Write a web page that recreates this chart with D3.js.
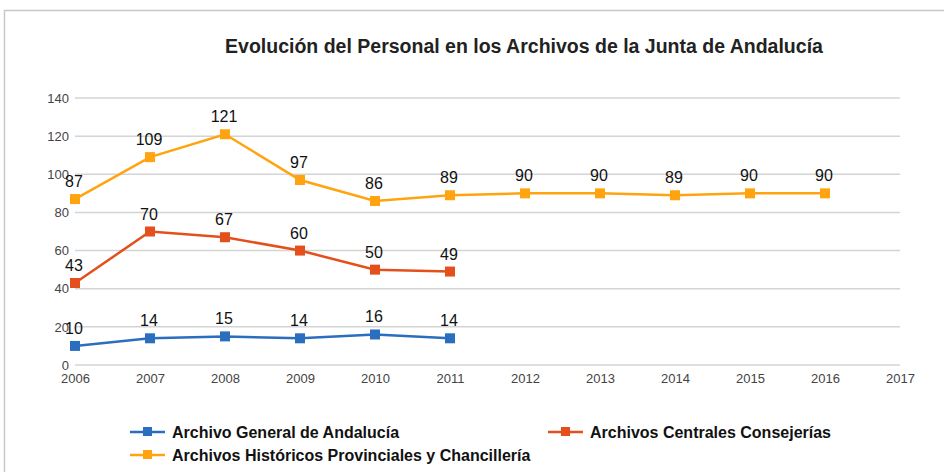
<!DOCTYPE html>
<html>
<head>
<meta charset="utf-8">
<script src="https://cdn.jsdelivr.net/npm/d3@7"></script>
<style>
  body { margin: 0; background: #fff; }
  svg { display: block; font-family: "Liberation Sans", Arial, sans-serif; }
</style>
</head>
<body>
<div id="chart"></div>
<script>
// Data
const years = [2006, 2007, 2008, 2009, 2010, 2011, 2012, 2013, 2014, 2015, 2016, 2017];
const yTicks = [0, 20, 40, 60, 80, 100, 120, 140];
const seriesNames = [
    'Archivo General de Andalucía',
    'Archivos Centrales Consejerías',
    'Archivos Históricos Provinciales y Chancillería'
];
const generalValues = [10, 14, 15, 14, 16, 14];
const centralesValues = [43, 70, 67, 60, 50, 49];
const historicosValues = [87, 109, 121, 97, 86, 89, 90, 90, 89, 90, 90];
const colors = ['#2a6ebf', '#e4501b', '#ffa410'];

const width = 944;
const height = 472;

const svg = d3
    .select('#chart')
    .append('svg')
    .attr('width', width)
    .attr('height', height);

// Outer frame
svg.append('rect')
    .attr('x', 4.5)
    .attr('y', 10.5)
    .attr('width', 960)
    .attr('height', 500)
    .attr('fill', 'none')
    .attr('stroke', '#c8c8c8')
    .attr('stroke-width', 1.5);

// Title
svg.append('text')
    .attr('x', 524)
    .attr('y', 53)
    .attr('text-anchor', 'middle')
    .attr('font-size', 19.5)
    .attr('font-weight', 'bold')
    .attr('fill', '#222')
    .text('Evolución del Personal en los Archivos de la Junta de Andalucía');

// Scales
const xScale = d3.scaleLinear().domain([2006, 2017]).range([75, 900]);
const yScale = d3.scaleLinear().domain([0, 140]).range([365, 98]);

// Grid lines
svg.append('g')
    .selectAll('line')
    .data(yTicks)
    .enter()
    .append('line')
    .attr('x1', xScale(2006))
    .attr('x2', xScale(2017))
    .attr('y1', (d) => yScale(d))
    .attr('y2', (d) => yScale(d))
    .attr('stroke', '#d4d4d4')
    .attr('stroke-width', 1.5);

// Axes (text only, lines drawn as grid)
const yAxis = svg.append('g')
    .attr('transform', `translate(${xScale(2006)}, 0)`)
    .call(d3.axisLeft(yScale).tickValues(yTicks).tickSize(0).tickPadding(6));
yAxis.select('.domain').remove();
yAxis.selectAll('text')
    .attr('font-family', '"Liberation Sans", Arial, sans-serif')
    .attr('font-size', 13)
    .attr('fill', '#444');

const xAxis = svg.append('g')
    .attr('transform', `translate(0, ${yScale(0)})`)
    .call(d3.axisBottom(xScale).tickValues(years).tickFormat(d3.format('d')).tickSize(0).tickPadding(9));
xAxis.select('.domain').remove();
xAxis.selectAll('text')
    .attr('font-family', '"Liberation Sans", Arial, sans-serif')
    .attr('font-size', 13)
    .attr('fill', '#444');

// Series
const allSeries = [generalValues, centralesValues, historicosValues].map((vals, i) => ({
    name: seriesNames[i],
    color: colors[i],
    points: vals.map((v, j) => ({ year: years[j], value: v }))
}));

const line = d3.line()
    .x((d) => xScale(d.year))
    .y((d) => yScale(d.value));

const groups = svg.append('g')
    .selectAll('g')
    .data(allSeries)
    .enter()
    .append('g');

groups.append('path')
    .attr('d', (d) => line(d.points))
    .attr('fill', 'none')
    .attr('stroke', (d) => d.color)
    .attr('stroke-width', 2.5);

groups.selectAll('rect')
    .data((d) => d.points.map((p) => ({ ...p, color: d.color })))
    .enter()
    .append('rect')
    .attr('x', (d) => xScale(d.year) - 5)
    .attr('y', (d) => yScale(d.value) - 5)
    .attr('width', 10)
    .attr('height', 10)
    .attr('fill', (d) => d.color);

groups.selectAll('text')
    .data((d) => d.points)
    .enter()
    .append('text')
    .attr('x', (d) => xScale(d.year) - 1)
    .attr('y', (d) => yScale(d.value) - 12)
    .attr('text-anchor', 'middle')
    .attr('font-size', 16)
    .attr('fill', '#111')
    .text((d) => d.value);

// Legend
const legendPos = [
    { x: 130, y: 432 },
    { x: 548, y: 432 },
    { x: 130, y: 455 }
];
const legend = svg.append('g')
    .selectAll('g')
    .data(allSeries)
    .enter()
    .append('g')
    .attr('transform', (d, i) => `translate(${legendPos[i].x}, ${legendPos[i].y})`);

legend.append('line')
    .attr('x1', 0)
    .attr('x2', 35)
    .attr('stroke', (d) => d.color)
    .attr('stroke-width', 2.5);
legend.append('rect')
    .attr('x', 13)
    .attr('y', -5)
    .attr('width', 9)
    .attr('height', 9)
    .attr('fill', (d) => d.color);
legend.append('text')
    .attr('x', 42)
    .attr('y', 6)
    .attr('font-size', 16)
    .attr('font-weight', 'bold')
    .attr('fill', '#111')
    .text((d) => d.name);
</script>
</body>
</html>
